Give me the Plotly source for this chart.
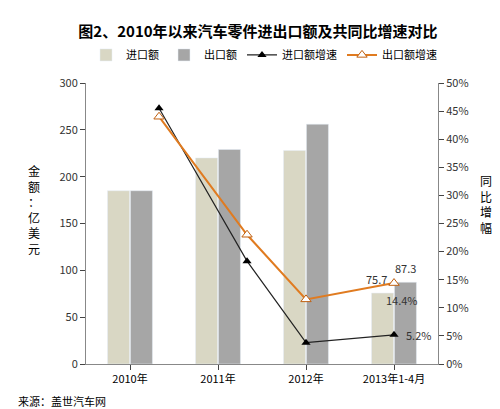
import plotly.graph_objects as go

categories = ['2010年', '2011年', '2012年', '2013年1-4月']
imports = [185, 220, 228, 75.7]
exports = [185, 229, 256, 87.3]
import_growth = [45.5, 18.3, 3.8, 5.2]
export_growth = [44.0, 23.0, 11.5, 14.4]

idx = list(range(len(categories)))
# the growth markers sit a little right of the category centre in the source chart
line_offset = [0.33, 0.33, 0.0, 0.0]
line_x = [i + o for i, o in zip(idx, line_offset)]
font = 'Noto Sans CJK SC'

fig = go.Figure()
fig.add_trace(go.Bar(x=[i - 0.13 for i in idx], y=imports, name='进口额', width=0.25,
                     marker_color='#d9d7c4'))
fig.add_trace(go.Bar(x=[i + 0.13 for i in idx], y=exports, name='出口额', width=0.25,
                     marker_color='#a6a6a6'))
fig.add_trace(go.Scatter(x=line_x, y=import_growth, name='进口额增速',
                         yaxis='y2', mode='lines+markers', line=dict(color='#222', width=1.2),
                         marker=dict(symbol='triangle-up', size=8, color='black')))
fig.add_trace(go.Scatter(x=line_x, y=export_growth, name='出口额增速',
                         yaxis='y2', mode='lines+markers', line=dict(color='#e07b20', width=2),
                         marker=dict(symbol='triangle-up', size=9, color='white',
                                     line=dict(color='#c06010', width=1))))

# labels for last period
fig.add_annotation(x=3 - 0.13, y=imports[3], text=str(imports[3]), showarrow=False, yshift=14,
                   xshift=-6, font=dict(size=11, color='#333'))
fig.add_annotation(x=3 + 0.13, y=exports[3], text=str(exports[3]), showarrow=False, yshift=14,
                   xshift=0, font=dict(size=11, color='#333'))
fig.add_annotation(x=line_x[3], y=export_growth[3], yref='y2', text=f'{export_growth[3]}%',
                   showarrow=False, yshift=-17, xshift=8, font=dict(size=11, color='#333'))
fig.add_annotation(x=line_x[3], y=import_growth[3], yref='y2', text=f'{import_growth[3]}%',
                   showarrow=False, xshift=24, font=dict(size=11, color='#333'))

fig.add_annotation(x=-0.17, y=0.55, xref='paper', yref='paper',
                   text='金<br>额<br>：<br>亿<br>美<br>元', showarrow=False,
                   font=dict(size=12, color='black'))
fig.add_annotation(x=1.16, y=0.57, xref='paper', yref='paper',
                   text='同<br>比<br>增<br>幅', showarrow=False,
                   font=dict(size=12, color='black'))
fig.add_annotation(x=-0.2, y=-0.13, xref='paper', yref='paper', xanchor='left',
                   yanchor='middle', text='来源：盖世汽车网', showarrow=False,
                   font=dict(size=11, color='black'))

fig.update_layout(
    width=500, height=409, paper_bgcolor='white', plot_bgcolor='white',
    font=dict(family=font, size=11, color='#333'),
    title=dict(text='<b>图2、2010年以来汽车零件进出口额及共同比增速对比</b>', x=0.5, y=0.955,
               font=dict(size=15, color='black')),
    legend=dict(orientation='h', x=0.0, xanchor='left', y=1.1, yanchor='middle',
                font=dict(size=11, color='black'), itemwidth=30, tracegroupgap=0),
    margin=dict(l=78, r=70, t=75, b=53, autoexpand=False),
    barmode='overlay', showlegend=True,
    xaxis=dict(range=[-0.5, 3.5], tickvals=idx, ticktext=categories, showline=True,
               linecolor='#888', ticks='outside', showgrid=False, tickfont=dict(color='black')),
    yaxis=dict(range=[0, 300], dtick=50, showline=True, linecolor='#888', ticks='outside',
               showgrid=False),
    yaxis2=dict(range=[0, 50], dtick=5, ticksuffix='%', overlaying='y', side='right',
                showline=True, linecolor='#888', ticks='outside', showgrid=False),
)
fig.write_html('out.html')
